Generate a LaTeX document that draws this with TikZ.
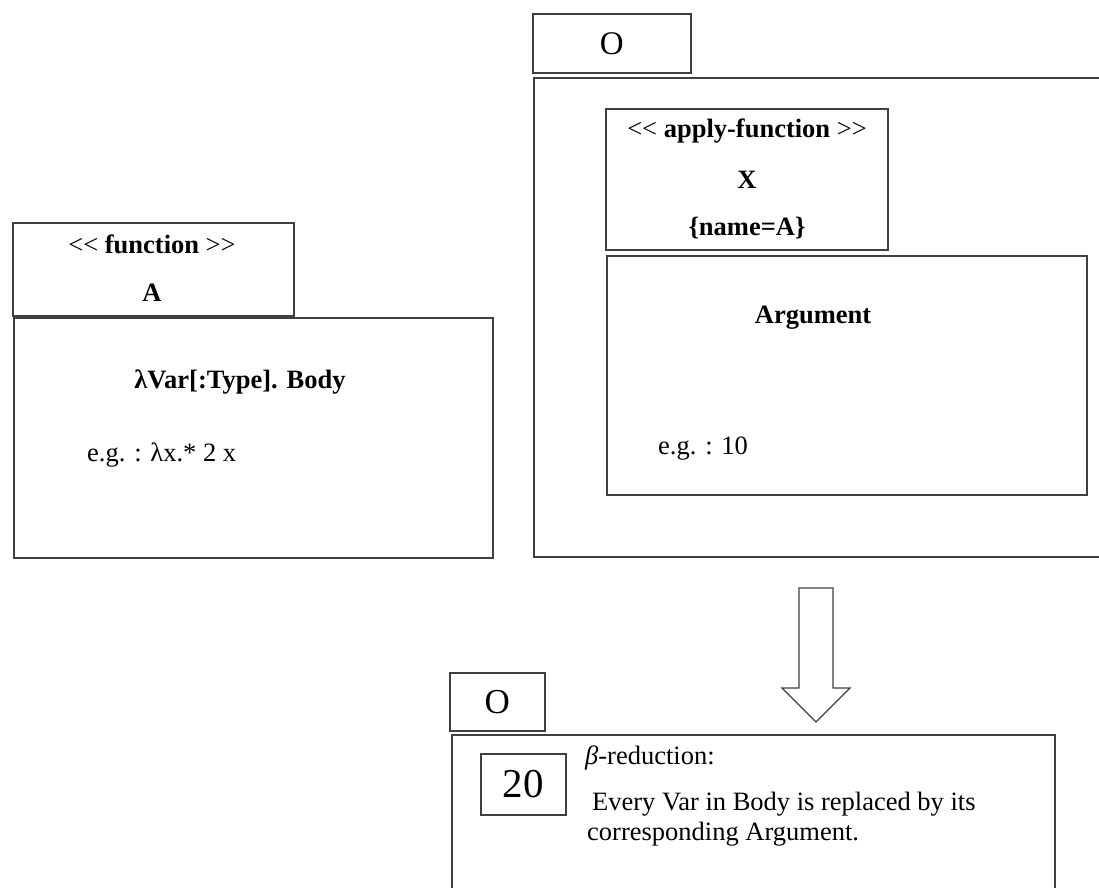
\documentclass[tikz,border=0pt]{standalone}
\usepackage{fontspec}
\setmainfont{Liberation Serif}
\usetikzlibrary{positioning}
\newcommand{\stlt}{<\kern0pt<}
\newcommand{\stgt}{>\kern0pt>}

\begin{document}
\begin{tikzpicture}[x=1pt,y=-1pt,
    box/.style={draw=black!75,line width=1.5pt,inner sep=0pt,anchor=north west},
    txt/.style={inner sep=0pt,font=\fontsize{26.5}{30}\selectfont},
    btxt/.style={inner sep=0pt,font=\fontsize{26.5}{30}\selectfont\bfseries}]
  \useasboundingbox[fill=white] (0,0) rectangle (1099,887);
  % function A
  \node[box,minimum width=281,minimum height=93] (fhead) at (12,222) {};
  \node[box,minimum width=479,minimum height=240] (fbody) at (13,317) {};
  \node[txt] (ftitle) at (152,244) {\stlt{} \textbf{function} \stgt};
  \node[btxt] (fname) at (152,293) {A};
  \node[btxt] (fsig) at (240,382) {λVar[:Type]. Body};
  \node[txt,anchor=west] (fex) at (87,455) {e.g. : λx.* 2 x};
  % application O
  \node[box,minimum width=158,minimum height=59] (otop) at (532,13) {};
  \node[txt,font=\fontsize{33}{36}\selectfont] at (otop.center) {O};
  \node[box,minimum width=600,minimum height=479] (oouter) at (533,77) {};
  \node[box,minimum width=282,minimum height=141] (ahead) at (605,108) {};
  \node[txt] (atitle) at (747,131) {\stlt{} \textbf{apply-function} \stgt};
  \node[btxt] (aname) at (747,180) {X};
  \node[btxt] (aattr) at (747,228) {\{name=A\}};
  \node[box,minimum width=480,minimum height=239] (argbox) at (606,255) {};
  \node[btxt] (argtitle) at (813,318) {Argument};
  \node[txt,anchor=west] (argex) at (658,449) {e.g. : 10};
  % reduction
  \coordinate (reduce) at (816,588);
  \draw[draw=black!75,line width=1.2pt,line join=miter] (reduce) ++(-17,0) -- ++(0,100) -- ++(-17,0)
    -- ++(34,34) -- ++(34,-34) -- ++(-17,0) -- ++(0,-100) -- cycle;
  \node[box,minimum width=95,minimum height=58] (obot) at (449,672) {};
  \node[txt,font=\fontsize{35}{38}\selectfont] at (obot.center) {O};
  \node[box,minimum width=603,minimum height=200] (res) at (451,734) {};
  \node[box,minimum width=85,minimum height=61] (num) at (480,753) {};
  \node[txt,font=\fontsize{41}{44}\selectfont] at (num.center) {20};
  \node[txt,anchor=west] (beta) at (585,758) {\textit{β}-reduction:};
  \node[txt,anchor=north west,align=left] (rule) at (587,792)
    {\hspace{5pt}Every Var in Body is replaced by its\\corresponding Argument.};
\end{tikzpicture}
\end{document}
